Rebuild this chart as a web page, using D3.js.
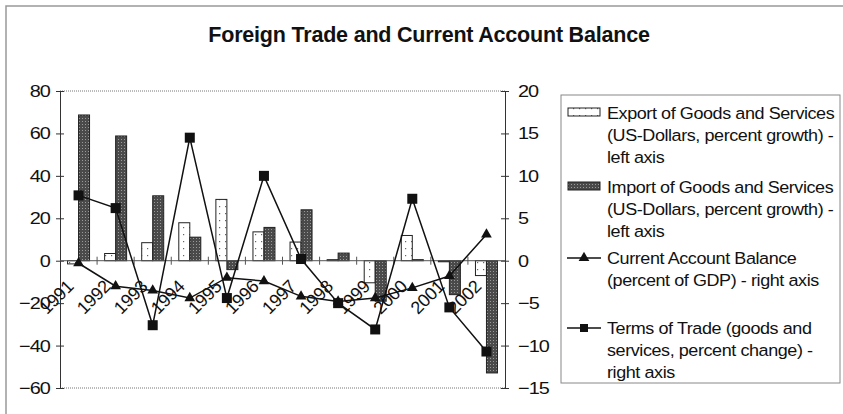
<!DOCTYPE html>
<html><head><meta charset="utf-8">
<script src="https://cdn.jsdelivr.net/npm/d3@7"></script>
<style>body{margin:0;background:#fff}svg{display:block}text{font-family:"Liberation Sans",Arial,sans-serif;fill:#111}</style>
</head><body>
<svg id="c" width="843" height="414"></svg>
<script>
const years = ["1991","1992","1993","1994","1995","1996","1997","1998","1999","2000","2001","2002"];
const exportGrowth = [-1.5, 3.4, 8.5, 17.9, 28.9, 13.6, 8.8, 0.5, -10.4, 11.9, -0.5, -7];
const importGrowth = [68.7, 58.8, 30.6, 11.1, -4.2, 15.7, 24, 3.6, -19.1, 0.5, -16, -52.9];
const currentAccount = [-0.3, -3.0, -3.5, -4.4, -2.0, -2.4, -4.2, -4.8, -4.4, -3.2, -1.8, 3.1];
const termsOfTrade = [7.7, 6.2, -7.6, 14.5, -4.4, 10.0, 0.2, -5.0, -8.1, 7.3, -5.5, -10.7];
const leftTicks = [80, 60, 40, 20, 0, -20, -40, -60];
const rightTicks = [20, 15, 10, 5, 0, -5, -10, -15];
const title = "Foreign Trade and Current Account Balance";
const legendItems = [
  {type:"export", lines:["Export of Goods and Services","(US-Dollars, percent growth) -","left axis"]},
  {type:"import", lines:["Import of Goods and Services","(US-Dollars, percent growth) -","left axis"]},
  {type:"ca", lines:["Current Account Balance","(percent of GDP) - right axis"]},
  {type:"tot", lines:["Terms of Trade (goods and","services, percent change) -","right axis"]}
];

const SX = 1.17, SXL = 1.06;
const svg = d3.select("#c");
const defs = svg.append("defs");
const pe = defs.append("pattern").attr("id","pExp").attr("patternUnits","userSpaceOnUse").attr("width",6).attr("height",7);
pe.append("rect").attr("width",6).attr("height",7).attr("fill","#fff");
pe.append("rect").attr("x",3).attr("y",3).attr("width",1.2).attr("height",1.2).attr("fill","#666");
const pi = defs.append("pattern").attr("id","pImp").attr("patternUnits","userSpaceOnUse").attr("width",3).attr("height",3);
pi.append("rect").attr("width",3).attr("height",3).attr("fill","#4a4a4a");
pi.append("rect").attr("x",1).attr("y",1).attr("width",1).attr("height",1).attr("fill","#9a9a9a");

// outer frame
svg.append("rect").attr("x",6).attr("y",6).attr("width",850).attr("height",420).attr("fill","none").attr("stroke","#999").attr("stroke-width",1.5);

const L = 60, R = 505, T = 91, B = 388;
const x = d3.scaleBand().domain(years).range([L, R]).paddingInner(0).paddingOuter(0);
const yL = d3.scaleLinear().domain([-60, 80]).range([B, T]);
const yR = d3.scaleLinear().domain([-15, 20]).range([B, T]);
const bw = 11;

svg.append("text").attr("x", 429).attr("y", 42).attr("text-anchor","middle")
  .attr("font-size", 21.5).attr("font-weight","bold").style("letter-spacing","-0.2px").text(title);

// plot border top/bottom dotted
svg.append("line").attr("x1",L).attr("x2",R).attr("y1",T).attr("y2",T).attr("stroke","#777").attr("stroke-dasharray","1,1");
svg.append("line").attr("x1",L).attr("x2",R).attr("y1",B).attr("y2",B).attr("stroke","#777").attr("stroke-dasharray","1,1");

// axes
const axL = d3.axisLeft(yL).tickValues(leftTicks).tickSize(4).tickPadding(6);
const gL = svg.append("g").attr("transform",`translate(${L},0)`).call(axL);
const axR = d3.axisRight(yR).tickValues(rightTicks).tickSize(4).tickPadding(10);
const gR = svg.append("g").attr("transform",`translate(${R},0)`).call(axR);
[gL,gR].forEach(g=>{
  g.select(".domain").attr("stroke","#333");
  g.selectAll(".tick line").attr("stroke","#333").attr("x1",-4).attr("x2",4);
  g.selectAll(".tick text").attr("font-size",17).attr("fill","#111")
    .style("font-family","Liberation Sans, Arial, sans-serif").style("letter-spacing","-0.8px");
});
gL.selectAll(".tick text").attr("x",null).attr("transform",`translate(-10,0) scale(${SX},1)`);
gR.selectAll(".tick text").attr("x",null).attr("transform",`translate(13,0) scale(${SX},1)`);

// bars
const bars = svg.append("g");
years.forEach((yr,i)=>{
  const cx = x(yr) + x.bandwidth()/2;
  const e = exportGrowth[i], m = importGrowth[i];
  bars.append("rect").attr("x",cx-bw).attr("width",bw)
    .attr("y",yL(Math.max(0,e))).attr("height",Math.abs(yL(e)-yL(0)))
    .attr("fill","url(#pExp)").attr("stroke","#222").attr("stroke-width",1);
  bars.append("rect").attr("x",cx).attr("width",bw)
    .attr("y",yL(Math.max(0,m))).attr("height",Math.abs(yL(m)-yL(0)))
    .attr("fill","url(#pImp)").attr("stroke","#222").attr("stroke-width",1);
});

// category axis at zero
svg.append("line").attr("x1",L).attr("x2",R).attr("y1",yL(0)).attr("y2",yL(0)).attr("stroke","#555");
years.forEach((yr,i)=>{
  if(i>0) svg.append("line").attr("x1",x(yr)).attr("x2",x(yr)).attr("y1",yL(0)-4).attr("y2",yL(0)+4).attr("stroke","#555");
});

// lines
const cx = (d,i)=> x(years[i]) + x.bandwidth()/2;
const line = d3.line().x((d,i)=>cx(d,i)).y(d=>yR(d));
svg.append("path").attr("d",line(currentAccount)).attr("fill","none").attr("stroke","#111").attr("stroke-width",1.5);
svg.append("path").attr("d",line(termsOfTrade)).attr("fill","none").attr("stroke","#111").attr("stroke-width",1.5);
const tri = d3.symbol().type(d3.symbolTriangle).size(50);
currentAccount.forEach((v,i)=>{
  svg.append("path").attr("d",tri()).attr("transform",`translate(${cx(v,i)},${yR(v)})`).attr("fill","#111");
});
termsOfTrade.forEach((v,i)=>{
  svg.append("rect").attr("x",cx(v,i)-5).attr("y",yR(v)-5).attr("width",10).attr("height",10).attr("fill","#111");
});

// year labels
years.forEach((yr,i)=>{
  const px = x(yr) + x.bandwidth()/2 - 4, py = yL(0) + 27;
  svg.append("text").attr("transform",`translate(${px},${py}) rotate(-45)`)
    .attr("text-anchor","end").attr("font-size",18).style("letter-spacing","-0.3px").text(yr);
});

// legend
const lg = svg.append("g");
lg.append("rect").attr("x",561).attr("y",95).attr("width",279).attr("height",288).attr("fill","#fff").attr("stroke","#888");
const starts = [113, 187, 258, 328];
legendItems.forEach((it,k)=>{
  const y0 = starts[k];
  if(it.type==="export"||it.type==="import"){
    lg.append("rect").attr("x",568).attr("y",y0-5).attr("width",32).attr("height",8)
      .attr("fill", it.type==="export"?"url(#pExp)":"url(#pImp)").attr("stroke","#222");
  } else {
    lg.append("line").attr("x1",567).attr("x2",601).attr("y1",y0).attr("y2",y0).attr("stroke","#111").attr("stroke-width",1.5);
    if(it.type==="ca") lg.append("path").attr("d",tri()).attr("transform",`translate(584,${y0})`).attr("fill","#111");
    else lg.append("rect").attr("x",580).attr("y",y0-4).attr("width",8).attr("height",8).attr("fill","#111");
  }
  it.lines.forEach((t,j)=>{
    lg.append("text").attr("transform",`translate(607,${y0 + j*22}) scale(${SXL},1)`)
      .attr("dy","0.35em").attr("font-size",17).style("letter-spacing","-0.4px").text(t);
  });
});
</script>
</body></html>
